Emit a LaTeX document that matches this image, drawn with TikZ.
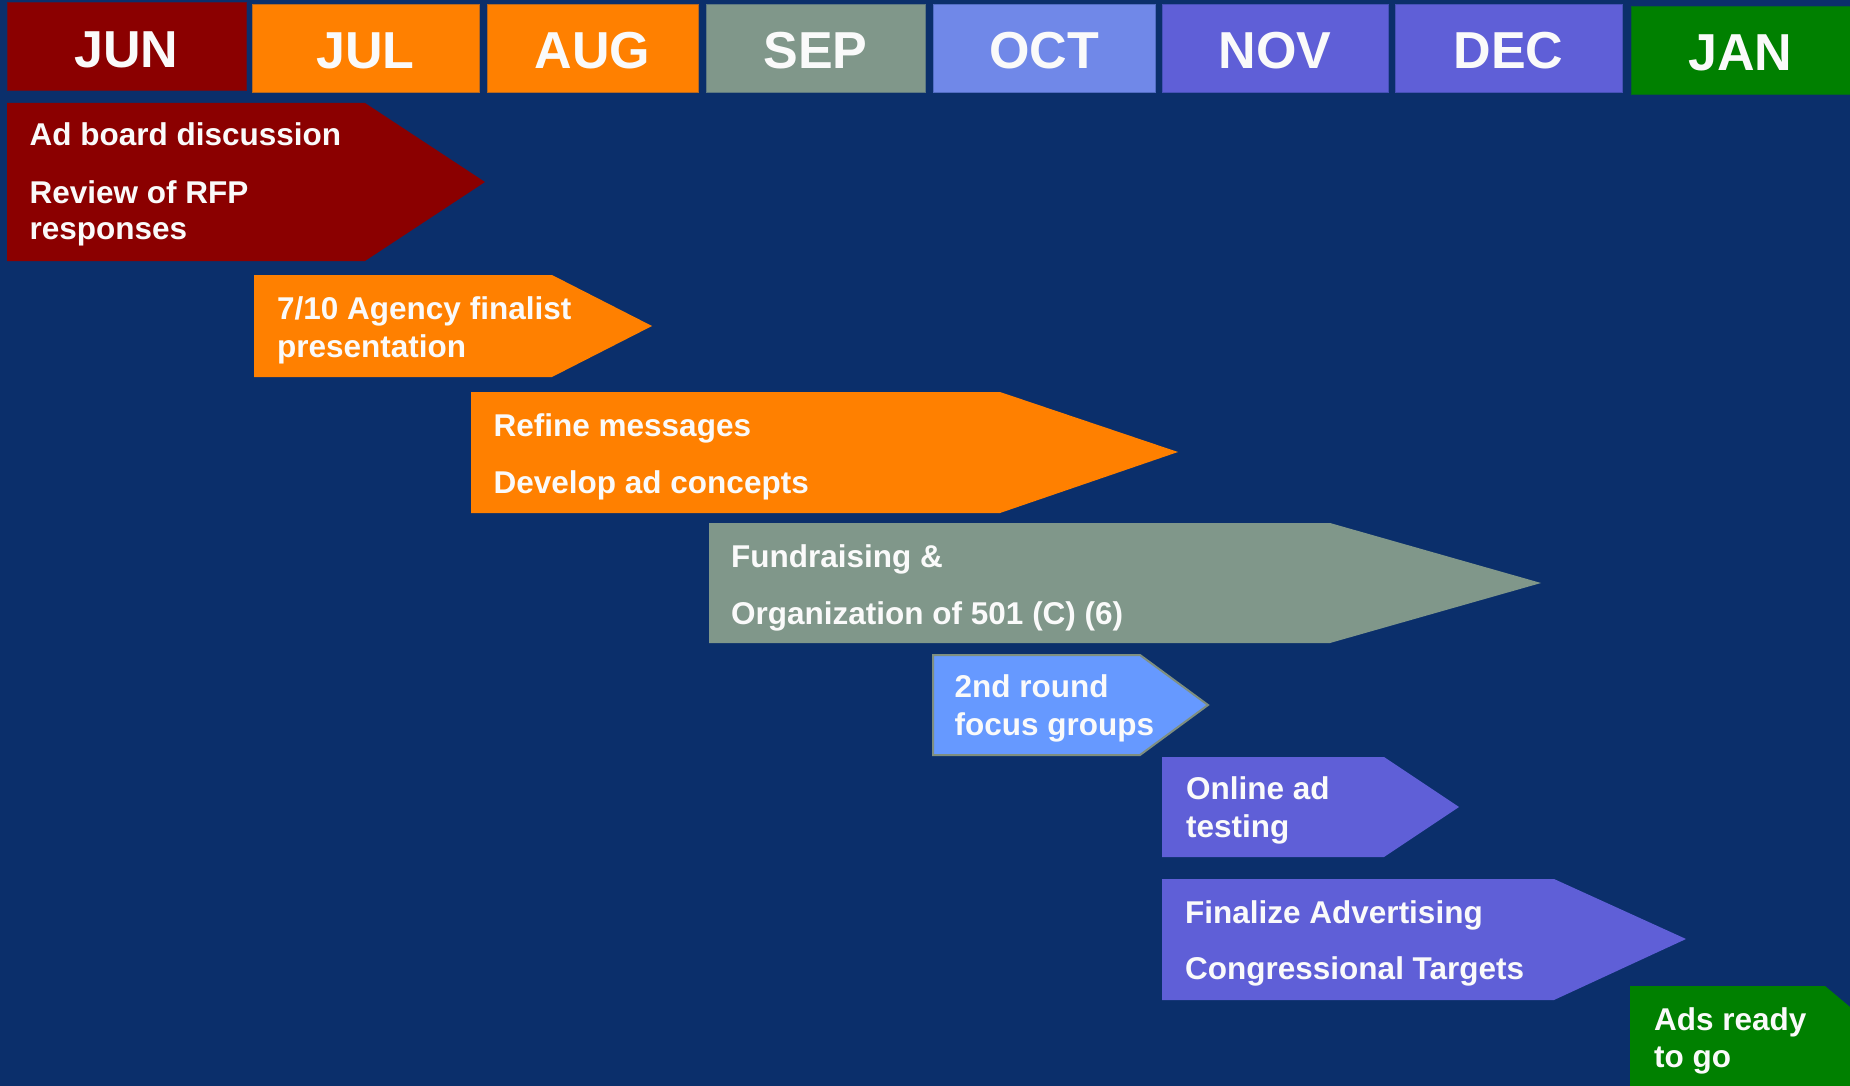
\documentclass[tikz,border=0pt]{standalone}
\usepackage{fontspec}
\setmainfont{Liberation Sans}
\definecolor{bg}{HTML}{0B2F6B}
\definecolor{cjun}{HTML}{8B0000}
\definecolor{corange}{HTML}{FF8000}
\definecolor{csep}{HTML}{80978A}
\definecolor{coct}{HTML}{7088E8}
\definecolor{cnov}{HTML}{5F5FD7}
\definecolor{cjan}{HTML}{008000}
\definecolor{cfocus}{HTML}{6699FF}
\definecolor{cfocusline}{HTML}{7F8F7F}
\definecolor{txt}{HTML}{FAFAFA}
\begin{document}
\begin{tikzpicture}[x=1pt,y=-1pt,
  monthlbl/.style={anchor=base,text=txt,font=\fontsize{52}{52}\selectfont\bfseries,inner sep=0pt},
  tasklbl/.style={anchor=base west,text=txt,font=\fontsize{31.5}{37}\selectfont\bfseries,inner sep=0pt},
  monthedge/.style={line width=1pt}]
\useasboundingbox (0,0) rectangle (1850,1086);
\fill[bg] (0,0) rectangle (1850,1086);
\clip (0,0) rectangle (1850,1086);
% month header boxes
\filldraw[cjun,draw=cjun!70!bg,monthedge] (7,3) rectangle (246,91);
\filldraw[corange,draw=corange!70!bg,monthedge] (252,5) rectangle (479,93);
\filldraw[corange,draw=corange!70!bg,monthedge] (487,5) rectangle (698,93);
\filldraw[csep,draw=csep!70!bg,monthedge] (706,5) rectangle (925,93);
\filldraw[coct,draw=coct!70!bg,monthedge] (933,5) rectangle (1155,93);
\filldraw[cnov,draw=cnov!70!bg,monthedge] (1162,5) rectangle (1388,93);
\filldraw[cnov,draw=cnov!70!bg,monthedge] (1395,5) rectangle (1622,93);
\filldraw[cjan,draw=cjan!70!bg,monthedge] (1631,7) rectangle (1852,95);
\node[monthlbl] (mjun) at (126.5,68) {JUN};
\node[monthlbl] (mjul) at (365.5,69) {JUL};
\node[monthlbl] (maug) at (592.5,69) {AUG};
\node[monthlbl] (msep) at (815.5,69) {SEP};
\node[monthlbl] (moct) at (1044,69) {OCT};
\node[monthlbl] (mnov) at (1275,69) {NOV};
\node[monthlbl] (mdec) at (1508.5,69) {DEC};
\node[monthlbl] (mjan) at (1740.5,71) {JAN};
% task arrows
\fill[cjun] (7,103) -- (365,103) -- (485,182) -- (365,261) -- (7,261) -- cycle;
\fill[corange] (254,275) -- (552,275) -- (652,326) -- (552,377) -- (254,377) -- cycle;
\fill[corange] (471,392) -- (1000,392) -- (1178,452) -- (1000,513) -- (471,513) -- cycle;
\fill[csep] (709,523) -- (1330,523) -- (1541,583) -- (1330,643) -- (709,643) -- cycle;
\filldraw[fill=cfocus,draw=cfocusline,line width=2pt] (933,655) -- (1140,655) -- (1208,705) -- (1140,755) -- (933,755) -- cycle;
\fill[cnov] (1162,757) -- (1384,757) -- (1459,807) -- (1384,857) -- (1162,857) -- cycle;
\fill[cnov] (1162,879) -- (1554,879) -- (1686,939) -- (1554,1000) -- (1162,1000) -- cycle;
\fill[cjan] (1630,986) -- (1825,986) -- (1905,1053) -- (1825,1120) -- (1630,1120) -- cycle;
% task texts
\node[tasklbl] (t1a) at (29.5,146) {Ad board discussion};
\node[tasklbl] (t1b) at (29.5,204) {Review of RFP};
\node[tasklbl] (t1c) at (29.5,240) {responses};
\node[tasklbl] (t2a) at (277,319) {7/10 Agency finalist};
\node[tasklbl] (t2b) at (277,357) {presentation};
\node[tasklbl] (t3a) at (493.5,436) {Refine messages};
\node[tasklbl] (t3b) at (493.5,493) {Develop ad concepts};
\node[tasklbl] (t4a) at (731,567) {Fundraising \&};
\node[tasklbl] (t4b) at (731,624) {Organization of 501 (C) (6)};
\node[tasklbl] (t5a) at (954.5,697) {2nd round};
\node[tasklbl] (t5b) at (954.5,735) {focus groups};
\node[tasklbl] (t6a) at (1186,799) {Online ad};
\node[tasklbl] (t6b) at (1186,837) {testing};
\node[tasklbl] (t7a) at (1185,923) {Finalize Advertising};
\node[tasklbl] (t7b) at (1185,979) {Congressional Targets};
\node[tasklbl] (t8a) at (1654,1030) {Ads ready};
\node[tasklbl] (t8b) at (1654,1067) {to go};
\end{tikzpicture}
\end{document}
